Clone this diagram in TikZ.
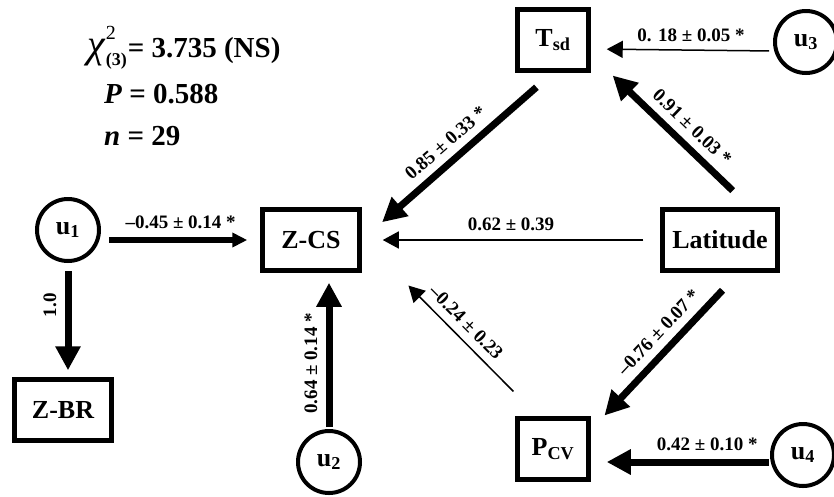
\documentclass[tikz,border=0pt]{standalone}
\usepackage{amsmath}
\usepackage{fontspec}
\setmainfont{Liberation Serif}
\usetikzlibrary{arrows.meta,positioning,calc}
\newcommand{\vbfont}{\fontsize{26}{30}\selectfont\bfseries}
\newcommand{\cffont}{\fontsize{19}{22}\selectfont\bfseries}
\newcommand{\stfont}{\fontsize{29}{33}\selectfont\bfseries}
\tikzset{
  varbox/.style={draw, line width=4.5pt, minimum height=61pt, inner sep=0pt, font=\vbfont},
  errvar/.style={circle, draw, line width=4pt, minimum size=62pt, inner sep=0pt, font=\vbfont},
  heavy/.style={-{Triangle[length=24pt,width=24pt]}, line width=7pt},
  medium/.style={-{Triangle[length=15pt,width=14pt]}, line width=6pt},
  light/.style={-{Triangle[length=16pt,width=17pt]}, line width=1.5pt},
  coef/.style={font=\cffont, inner sep=8pt},
  stat/.style={font=\stfont, anchor=base west, inner sep=0pt}
}

\begin{document}
\begin{tikzpicture}[x=1pt,y=-1pt]
  \useasboundingbox (0,0) rectangle (834,496);

  % fit statistics
  \node[stat] (chi) at (87,57) {{\fontsize{40}{40}\selectfont\mdseries\itshape χ}\kern1pt\rlap{\raisebox{18pt}{\fontsize{20}{20}\selectfont\mdseries 2}}\raisebox{-8pt}{\fontsize{18}{20}\selectfont(3)}\kern1pt= 3.735 (NS)};
  \node[stat] (pval) at (104,103) {\textit{P} = 0.588};
  \node[stat] (nval) at (104,145) {\textit{n} = 29};

  \node[varbox, minimum width=97pt] (zcs) at (311,240) {Z-CS};
  \node[varbox, minimum width=97pt] (zbr) at (63,410) {Z-BR};
  \node[varbox, minimum width=115pt] (lat) at (720,240) {Latitude};
  \node[varbox, minimum width=71pt] (tsd) at (553,40) {T\textsubscript{sd}};
  \node[varbox, minimum width=71pt] (pcv) at (553,449) {P\textsubscript{CV}};

  \node[errvar] (u1) at (68,230) {u\textsubscript{1}};
  \node[errvar] (u2) at (329,462) {u\textsubscript{2}};
  \node[errvar] (u3) at (806,42) {u\textsubscript{3}};
  \node[errvar] (u4) at (803,455) {u\textsubscript{4}};

  \draw[medium, shorten <=8pt, shorten >=13pt] (u1.east |- zcs.west) -- (zcs.west)
    node[coef, midway, above] {--0.45 ± 0.14 *};
  \draw[heavy, shorten <=8pt, shorten >=7pt] (u1.south) -- (u1.south |- zbr.north)
    node[coef, pos=0.37, rotate=90, anchor=south] {1.0};
  \draw[heavy, shorten <=2pt, shorten >=10pt] (u2.north) -- (u2.north |- zcs.south)
    node[coef, pos=0.42, sloped, above] {0.64 ± 0.14 *};
  \draw[heavy, shorten <=22pt, shorten >=27pt] (tsd.south) -- (zcs.east)
    node[coef, midway, sloped, above] {0.85 ± 0.33 *};
  \draw[heavy, shorten <=24pt, shorten >=4pt] ([xshift=30pt]lat.north) -- ([xshift=19pt]tsd.south east)
    node[coef, midway, sloped, above] {0.91 ± 0.03 *};
  \draw[light, shorten <=17pt, shorten >=21pt] (lat) -- (zcs)
    node[coef, midway, above] {0.62 ± 0.39};
  \draw[light, shorten <=35pt, shorten >=18pt] ([xshift=-15pt]pcv.north) -- ([xshift=34pt]zcs.south east)
    node[coef, pos=0.58, sloped, above] {--0.24 ± 0.23};
  \draw[heavy, shorten <=24pt, shorten >=1pt] ([xshift=19pt]lat.south) -- ([xshift=13pt]pcv.north east)
    node[coef, pos=0.5, sloped, above] {--0.76 ± 0.07 *};
  \draw[light, shorten <=4pt, shorten >=16pt] ([yshift=-9pt]u3.west) -- ([yshift=-9pt]tsd.east)
    node[coef, pos=0.45, above] {0. 18 ± 0.05 *};
  \draw[heavy, shorten <=1pt, shorten >=16pt] ([yshift=-7pt]u4.west) -- ([yshift=-13pt]pcv.east)
    node[coef, pos=0.35, above] {0.42 ± 0.10 *};
\end{tikzpicture}
\end{document}
